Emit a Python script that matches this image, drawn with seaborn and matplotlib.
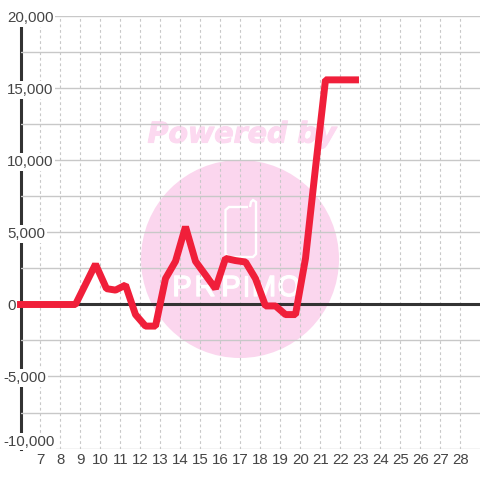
import numpy as np
import pandas as pd
import matplotlib
matplotlib.use("Agg")
import matplotlib.pyplot as plt
import matplotlib.patheffects as pe
from matplotlib.patches import Circle, PathPatch
from matplotlib.path import Path
import seaborn as sns

# values, one point every half tick
days = [6.0, 6.25, 6.75, 7.25, 7.75, 8.25, 8.75, 9.25, 9.75, 10.3, 10.75, 11.25, 11.75, 12.25,
        12.75, 13.25, 13.75, 14.25, 14.75, 15.25, 15.75, 16.25, 16.75, 17.25, 17.75, 18.25,
        18.75, 19.25, 19.75, 20.25, 20.75, 21.25, 21.75, 22.25, 22.75]
values = [0, 0, 0, 0, 0, 0, 0, 1400, 2800, 1100, 1000, 1350, -700, -1500,
          -1500, 1800, 3000, 5400, 3000, 2050, 1100, 3200, 3050, 2950, 1800, -100,
          -100, -700, -700, 3200, 9500, 15600, 15600, 15600, 15600]
x_ticks = list(range(7, 29))
y_ticks = [-10000, -5000, 0, 5000, 10000, 15000, 20000]
y_minor = [-7500, -2500, 2500, 7500, 12500, 17500]
y_labels = ["-10,000", "-5,000", "0", "5,000", "10,000", "15,000", "20,000"]

sns.set_theme(style="white")
plt.rcParams["font.family"] = ["Liberation Sans", "DejaVu Sans"]

fig = plt.figure(figsize=(4.8, 4.8), dpi=100, facecolor="white")
ax = fig.add_axes([20.5 / 480, 1 - 448.5 / 480, 459.5 / 480, 432 / 480])
ax.patch.set_visible(False)
ax.set_axisbelow("line")
df = pd.DataFrame({"day": days, "value": values})

# watermark, placed in pixels of the figure
pink = "#fbd6ee"
to_fig = lambda px, py: (px / 480, 1 - py / 480)
ax.add_artist(Circle(to_fig(240, 259), 99 / 480, transform=fig.transFigure, fc=pink, ec="none", zorder=0.2))
phone = [to_fig(*p) for p in [(248, 207), (229, 207), (225.5, 210), (225.5, 254), (229, 257), (253, 257), (256, 254),
                              (256, 202), (253, 200), (251, 202), (250, 207)]]
ax.add_artist(PathPatch(Path(phone), transform=fig.transFigure, fc="none", ec="white", lw=1.7, zorder=0.3))
ax.text(*to_fig(242, 134.5), "Powered by", transform=fig.transFigure, color="#fcd9f0", fontsize=20.5, fontweight="bold",
        fontstyle="italic", family="DejaVu Sans", ha="center", va="center", zorder=0.1,
        path_effects=[pe.withStroke(linewidth=0.8, foreground="#fcd9f0")])
for letter, px in zip("PRPIMO", [182, 205, 231, 246, 264, 289]):
    ax.text(*to_fig(px, 288), letter, transform=fig.transFigure, color="white", fontsize=21, ha="center", va="center",
            family="Liberation Sans", zorder=0.3, path_effects=[pe.withStroke(linewidth=1, foreground="white")])

ax.axhline(0, color="#333333", lw=2.2, zorder=1.8)
sns.lineplot(data=df, x="day", y="value", ax=ax, color="#f01f3a", lw=5, zorder=3, errorbar=None,
             solid_capstyle="projecting", solid_joinstyle="bevel", estimator=None, sort=False)

ax.set_xlim(6, 28.975)
ax.set_ylim(-10000, 20000)
ax.set_xlabel("")
ax.set_ylabel("")
ax.set_xticks(x_ticks)
ax.set_yticks(y_ticks)
ax.set_yticks(y_minor, minor=True)
ax.set_yticklabels(y_labels, ha="left", color="#444444", fontsize=10.8,
                   bbox=dict(fc="white", ec="none", pad=1.2))
ax.set_xticklabels(x_ticks, color="#444444", fontsize=10.8)
ax.grid(True, axis="y", which="both", color="#c8c8c8", lw=1)
ax.grid(True, axis="x", color="#c8c8c8", lw=0.8, ls=(0, (2.5, 2.5)))
ax.tick_params(axis="both", which="both", length=0)
ax.tick_params(axis="x", pad=3.5)
for tick, val in zip(ax.yaxis.get_major_ticks(), y_ticks):
    tick.set_pad(12.5 if val < 0 else 9.7)
ax.yaxis.get_major_ticks()[0].label1.set_va("bottom")

for name in ["top", "right", "bottom"]:
    ax.spines[name].set_visible(False)
ax.spines["left"].set_color("#333333")
ax.spines["left"].set_linewidth(2.2)
ax.spines["left"].set_zorder(1)
for line in ax.get_lines():
    line.set_clip_on(False)

fig.savefig("out.png", dpi=100)
